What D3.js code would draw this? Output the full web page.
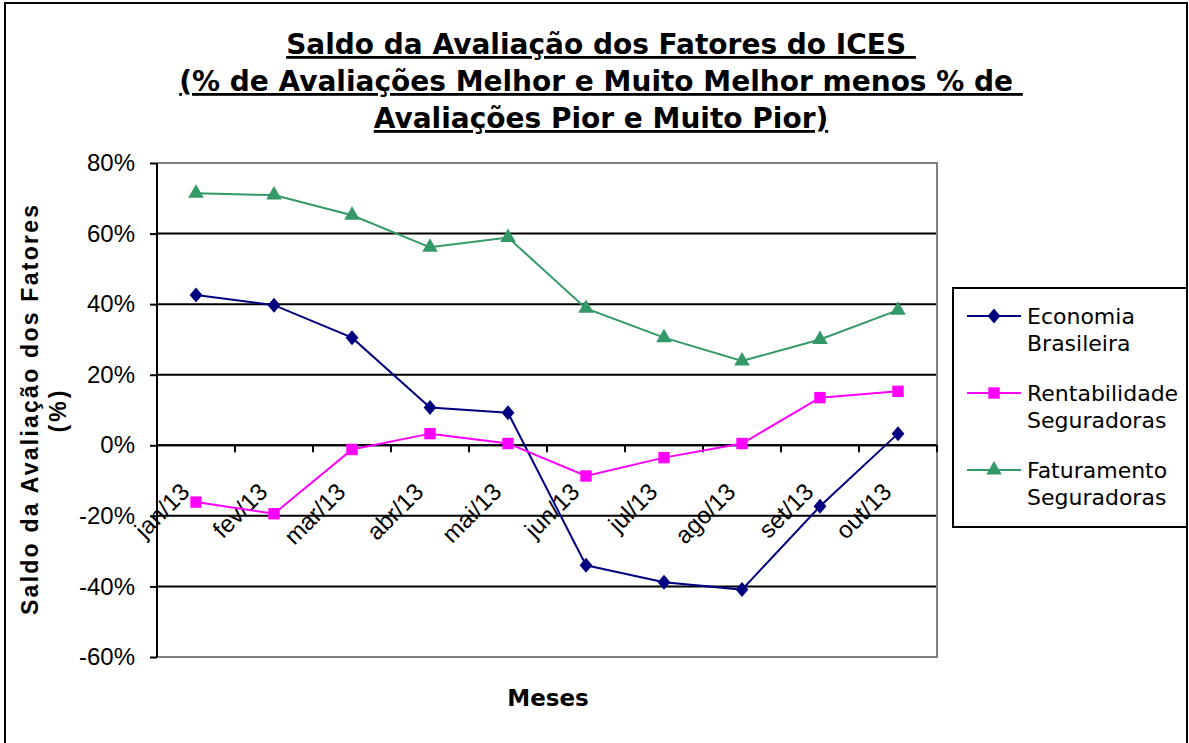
<!DOCTYPE html>
<meta charset="utf-8">
<title>Saldo da Avaliação dos Fatores do ICES</title>
<style>
  body { margin: 0; background: white; }
  svg { display: block; }
  .tick text { font-family: "Liberation Sans", Arial, sans-serif; }
</style>
<svg width="1189" height="743"></svg>
<script src="https://cdn.jsdelivr.net/npm/d3@7"></script>
<script>
  // dados (%)
  var meses = ["jan/13", "fev/13", "mar/13", "abr/13", "mai/13", "jun/13", "jul/13", "ago/13", "set/13", "out/13"]
  var economia = [42.6, 39.7, 30.5, 10.7, 9.2, -34.0, -38.8, -40.9, -17.3, 3.3]
  var rentabilidade = [-16.1, -19.4, -1.2, 3.3, 0.5, -8.7, -3.5, 0.5, 13.5, 15.3]
  var faturamento = [71.4, 70.9, 65.2, 56.1, 58.9, 38.8, 30.5, 23.9, 30.0, 38.3]
  var yTicks = [-60, -40, -20, 0, 20, 40, 60, 80]
  var nomes = [["Economia", "Brasileira"], ["Rentabilidade", "Seguradoras"], ["Faturamento", "Seguradoras"]]
  var titulo = ["Saldo da Avaliação dos Fatores do ICES ", "(% de Avaliações Melhor e Muito Melhor menos % de ", "Avaliações Pior e Muito Pior)"]

  // losango do Excel (mais largo que o d3.symbolDiamond)
  var losango = {
    draw: function(context, size) {
      var h = Math.sqrt(size) * 0.75, w = h * 0.85
      context.moveTo(0, -h)
      context.lineTo(w, 0)
      context.lineTo(0, h)
      context.lineTo(-w, 0)
      context.closePath()
    }
  }

  var series = [
    { nome: nomes[0], valores: economia, cor: "#000080", simbolo: losango, tam: 100 },
    { nome: nomes[1], valores: rentabilidade, cor: "#ff00ff", simbolo: d3.symbolSquare, tam: 130 },
    { nome: nomes[2], valores: faturamento, cor: "#339966", simbolo: d3.symbolTriangle, tam: 105 }
  ]

  var svg = d3.select("svg"),
    width = +svg.attr("width"),
    height = +svg.attr("height")

  var plot = { left: 157, right: 937, top: 163, bottom: 657 }

  var x = d3.scaleBand().domain(meses).range([plot.left, plot.right])
  var y = d3.scaleLinear().domain([-60, 80]).range([plot.bottom, plot.top])

  // moldura externa
  svg.append("rect")
    .attr("x", 5).attr("y", 3)
    .attr("width", 1182).attr("height", 760)
    .attr("fill", "white").attr("stroke", "black").attr("stroke-width", 2)

  // titulo
  var t = svg.append("text")
    .attr("font-family", "DejaVu Sans, Verdana, sans-serif")
    .attr("font-weight", "bold")
    .attr("font-size", 28)
    .attr("text-anchor", "middle")
    .attr("text-decoration", "underline")
  titulo.forEach(function(linha, i) {
    t.append("tspan").attr("x", 601).attr("y", 54 + i * 37).text(linha)
  })

  // grade
  svg.append("g").selectAll("line")
    .data(yTicks.filter(function(d) { return d > -60 && d < 80 }))
    .enter().append("line")
      .attr("x1", plot.left).attr("x2", plot.right)
      .attr("y1", function(d) { return y(d) }).attr("y2", function(d) { return y(d) })
      .attr("stroke", "black").attr("stroke-width", 2)

  // borda da area do grafico
  svg.append("path")
    .attr("d", "M" + plot.left + "," + plot.top + "H" + plot.right + "V" + plot.bottom + "H" + plot.left)
    .attr("fill", "none").attr("stroke", "#808080").attr("stroke-width", 2)

  // eixo y
  var yAxis = svg.append("g")
    .attr("transform", "translate(" + plot.left + ",0)")
    .call(d3.axisLeft(y).tickValues(yTicks).tickFormat(function(d) { return d + "%" }).tickSize(7).tickPadding(15))
  yAxis.select(".domain").attr("stroke-width", 2).attr("d", "M0," + plot.top + "V" + plot.bottom)
  yAxis.selectAll(".tick line").attr("stroke-width", 2)
  yAxis.selectAll(".tick text").attr("font-size", 24).attr("fill", "black")

  // eixo x no zero
  var xAxis = svg.append("g").attr("transform", "translate(0," + y(0) + ")")
  xAxis.append("line")
    .attr("x1", plot.left).attr("x2", plot.right)
    .attr("stroke", "black").attr("stroke-width", 2)
  xAxis.selectAll(".marca")
    .data(d3.range(meses.length + 1))
    .enter().append("line")
      .attr("x1", function(i) { return plot.left + i * x.step() })
      .attr("x2", function(i) { return plot.left + i * x.step() })
      .attr("y1", 0).attr("y2", 7)
      .attr("stroke", "black").attr("stroke-width", 2)
  xAxis.selectAll(".rotulo")
    .data(meses)
    .enter().append("text")
      .attr("transform", function(d) { return "translate(" + (x(d) + x.bandwidth() / 2 - 5) + ",48) rotate(-45)" })
      .attr("text-anchor", "end")
      .attr("font-family", "Liberation Sans, Arial, sans-serif")
      .attr("font-size", 24)
      .text(function(d) { return d })

  // linhas e marcadores
  var linha = d3.line()
    .x(function(d, i) { return x(meses[i]) + x.bandwidth() / 2 })
    .y(function(d) { return y(d) })

  series.forEach(function(s) {
    svg.append("path")
      .datum(s.valores)
      .attr("d", linha)
      .attr("fill", "none")
      .attr("stroke", s.cor)
      .attr("stroke-width", 2)
    svg.append("g").selectAll("path")
      .data(s.valores)
      .enter().append("path")
        .attr("transform", function(d, i) { return "translate(" + (x(meses[i]) + x.bandwidth() / 2) + "," + y(d) + ")" })
        .attr("d", d3.symbol().type(s.simbolo).size(s.tam))
        .attr("fill", s.cor)
  })

  // titulos dos eixos
  var yTitulo = svg.append("text")
    .attr("transform", "translate(38,410) rotate(-90)")
    .attr("font-family", "Liberation Sans, Arial, sans-serif")
    .attr("font-weight", "bold")
    .attr("font-size", 23)
    .attr("text-anchor", "middle")
  yTitulo.append("tspan").attr("x", 0).attr("y", 0)
    .attr("textLength", 410).attr("lengthAdjust", "spacing")
    .text("Saldo da Avaliação dos Fatores")
  yTitulo.append("tspan").attr("x", 0).attr("y", 28).attr("letter-spacing", 3).text("(%)")

  svg.append("text")
    .attr("x", 548).attr("y", 706)
    .attr("font-family", "DejaVu Sans, Verdana, sans-serif")
    .attr("font-weight", "bold")
    .attr("font-size", 23)
    .attr("text-anchor", "middle")
    .text("Meses")

  // legenda
  var leg = svg.append("g")
  leg.append("rect")
    .attr("x", 953).attr("y", 288)
    .attr("width", 234).attr("height", 239)
    .attr("fill", "white").attr("stroke", "black").attr("stroke-width", 2)
  series.forEach(function(s, i) {
    var cy = 316 + i * 77
    leg.append("line")
      .attr("x1", 967).attr("x2", 1021)
      .attr("y1", cy).attr("y2", cy)
      .attr("stroke", s.cor).attr("stroke-width", 2)
    leg.append("path")
      .attr("transform", "translate(994," + cy + ")")
      .attr("d", d3.symbol().type(s.simbolo).size(s.tam))
      .attr("fill", s.cor)
    var txt = leg.append("text")
      .attr("font-family", "DejaVu Sans, Verdana, sans-serif")
      .attr("font-size", 22)
    s.nome.forEach(function(n, j) {
      txt.append("tspan").attr("x", 1027).attr("y", cy + 8 + j * 27).text(n)
    })
  })
</script>
